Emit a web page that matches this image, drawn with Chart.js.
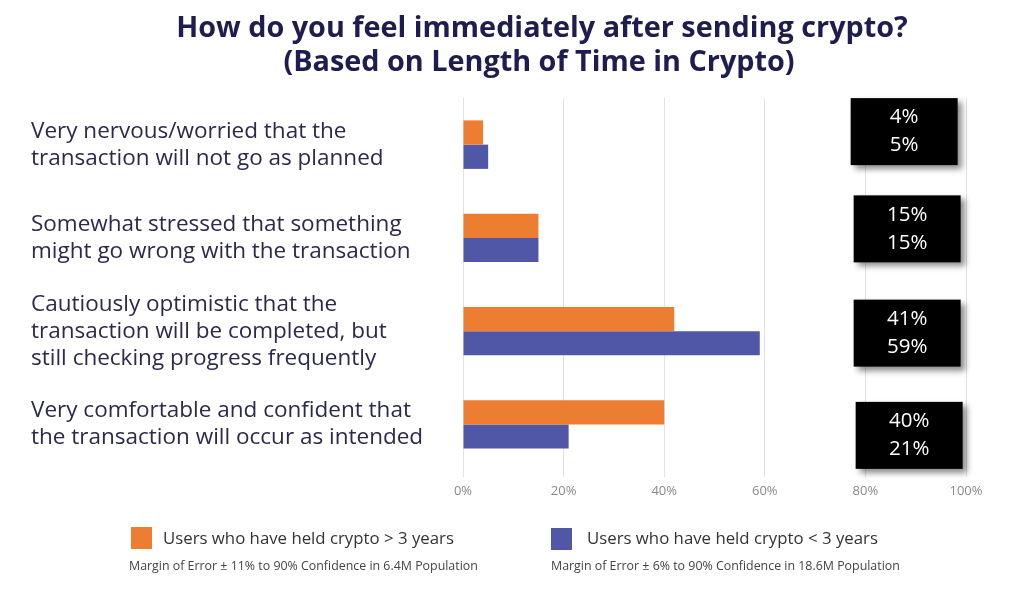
<!DOCTYPE html>
<html>
<head>
<meta charset="utf-8">
<script src="https://cdn.jsdelivr.net/npm/chart.js@4/dist/chart.umd.min.js"></script>
<style>
  html, body { margin: 0; padding: 0; background: #ffffff; }
  #wrap { width: 1024px; height: 589px; position: relative; }
</style>
</head>
<body>
<div id="wrap"><canvas id="c" width="1024" height="589"></canvas></div>
<script>
const titleLines = ["How do you feel immediately after sending crypto?", "(Based on Length of Time in Crypto)"];
const categories = [
  ["Very nervous/worried that the", "transaction will not go as planned"],
  ["Somewhat stressed that something", "might go wrong with the transaction"],
  ["Cautiously optimistic that the", "transaction will be completed, but", "still checking progress frequently"],
  ["Very comfortable and confident that", "the transaction will occur as intended"]
];
const seriesNames = ["Users who have held crypto > 3 years", "Users who have held crypto < 3 years"];
const notes = ["Margin of Error \u00b1 11% to 90% Confidence in 6.4M Population", "Margin of Error \u00b1 6% to 90% Confidence in 18.6M Population"];
const over3Years = [4, 15, 42, 40];
const under3Years = [5, 15, 59, 21];
const over3Printed = [4, 15, 41, 40];
const under3Printed = [5, 15, 59, 21];
const xTicks = [0, 20, 40, 60, 80, 100];

const ORANGE = "#ED7D31";
const PURPLE = "#5157A7";
const NAVY = "#1F1D4F";

const overlay = {
  id: "overlay",
  afterDraw(chart) {
    const ctx = chart.ctx;
    const xs = chart.scales.x, ys = chart.scales.y;
    ctx.save();
    // title
    ctx.fillStyle = NAVY;
    ctx.font = "bold 28.8px 'Open Sans'";
    ctx.textAlign = "center";
    ctx.textBaseline = "middle";
    ctx.fillText(titleLines[0], 542, 29);
    ctx.fillText(titleLines[1], 539, 63);

    // value boxes
    const dx = [-3, 0, 0, 2];
    const dy = [-13, -9, 2, 11];
    for (let i = 0; i < categories.length; i++) {
      const cx = xs.getPixelForValue(88.3) + dx[i];
      const cy = ys.getPixelForValue(i) + dy[i];
      const w = 107, h = 67;
      ctx.save();
      ctx.shadowColor = "rgba(0,0,0,0.45)";
      ctx.shadowBlur = 6;
      ctx.shadowOffsetX = 4;
      ctx.shadowOffsetY = 4;
      ctx.fillStyle = "#000000";
      ctx.fillRect(cx - w / 2, cy - h / 2, w, h);
      ctx.restore();
      ctx.fillStyle = "#ffffff";
      ctx.font = "20.5px 'Open Sans'";
      ctx.textAlign = "center";
      ctx.textBaseline = "middle";
      ctx.fillText(over3Printed[i] + "%", cx, cy - 14);
      ctx.fillText(under3Printed[i] + "%", cx, cy + 14);
    }

    // legend
    const items = [
      { color: ORANGE, sx: 131, sy: 527, tx: 163, nx: 129 },
      { color: PURPLE, sx: 551, sy: 528, tx: 587, nx: 551 }
    ];
    items.forEach((it, k) => {
      ctx.fillStyle = it.color;
      ctx.fillRect(it.sx, it.sy, 21, 22);
      ctx.fillStyle = "#333333";
      ctx.font = "16.8px 'Open Sans'";
      ctx.textAlign = "left";
      ctx.textBaseline = "middle";
      ctx.fillText(seriesNames[k], it.tx, 539);
      ctx.fillStyle = "#444444";
      ctx.font = "12.4px 'Open Sans'";
      ctx.fillText(notes[k], it.nx, 566);
    });
    ctx.restore();
  }
};

new Chart(document.getElementById("c"), {
  type: "bar",
  data: {
    labels: categories,
    datasets: [
      { label: seriesNames[0], data: over3Years, backgroundColor: ORANGE },
      { label: seriesNames[1], data: under3Years, backgroundColor: PURPLE }
    ]
  },
  options: {
    indexAxis: "y",
    responsive: false,
    animation: false,
    devicePixelRatio: 1,
    layout: { padding: { left: 31, right: 58, top: 98, bottom: 88 } },
    categoryPercentage: 0.52,
    barPercentage: 1.0,
    plugins: {
      legend: { display: false },
      title: { display: false },
      tooltip: { enabled: false }
    },
    scales: {
      x: {
        min: 0, max: 100,
        afterBuildTicks(scale) { scale.ticks = xTicks.map(v => ({ value: v })); },
        afterFit(scale) { scale.height = 30; },
        grid: { color: "#e2e2e2", lineWidth: 1, drawTicks: true, tickLength: 6, tickColor: "#e2e2e2" },
        border: { display: false },
        ticks: {
          padding: 6,
          color: "#8a8a8a",
          font: { family: "'Open Sans'", size: 13 },
          callback: v => v + "%"
        }
      },
      y: {
        afterFit(scale) { scale.width = 432; },
        grid: { display: false },
        border: { display: false },
        ticks: {
          crossAlign: "far",
          color: "#2B2A4C",
          font: { family: "'Open Sans'", size: 22.5, lineHeight: 1.2 }
        }
      }
    }
  },
  plugins: [overlay]
});
</script>
</body>
</html>
